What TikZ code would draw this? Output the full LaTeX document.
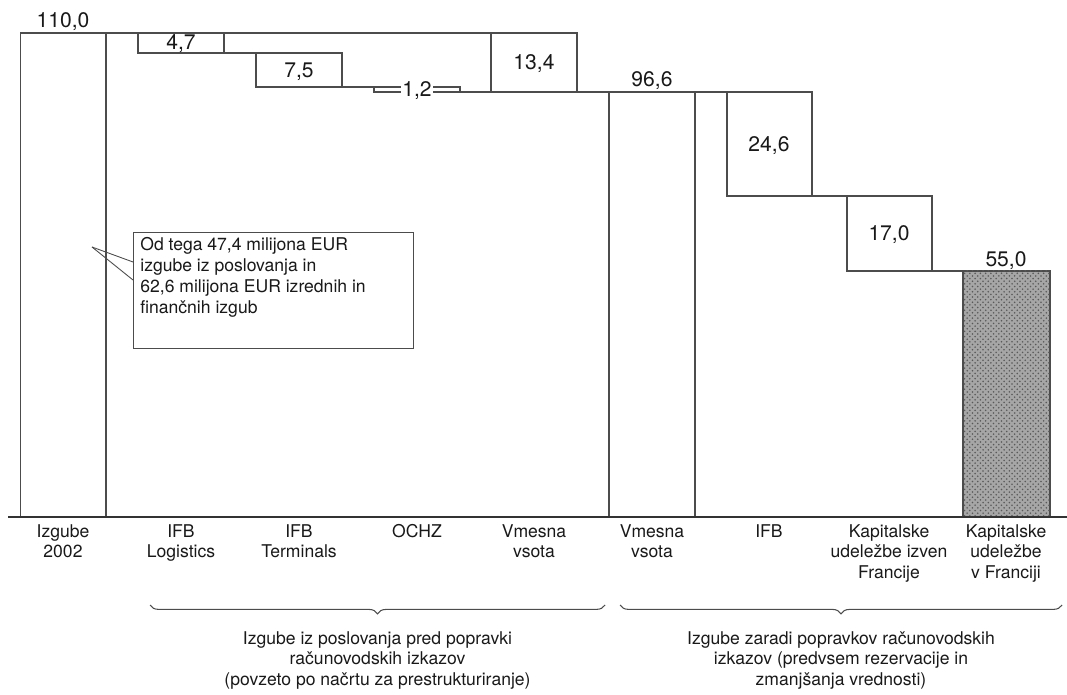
\documentclass[tikz,border=0pt]{standalone}
\usepackage{fontspec}
\setmainfont{TeX Gyre Heros}
\usetikzlibrary{positioning, decorations.pathreplacing, patterns}

\begin{document}
\begin{tikzpicture}[
    x=0.02cm, y=-0.02cm,
    every node/.style={
        font=\fontsize{10}{11.8}\selectfont, text=black!90, inner sep=0pt
    },
    outline/.style={draw=black!70, line width=0.6pt},
    axisline/.style={draw=black!80, line width=1.6pt},
    shaded/.style={outline, fill=black!35,
        postaction={pattern=crosshatch dots, pattern color=black!65}},
    value/.style={anchor=base, font=\fontsize{12}{14}\selectfont},
    catlabel/.style={anchor=north, align=center},
    bracelabel/.style={anchor=north, align=center},
    notebox/.style={outline, fill=white, anchor=north west,
        minimum width=5.6cm, minimum height=2.32cm},
    pointer/.style={draw=black!70, line width=0.5pt},
    curly/.style={decorate, decoration={brace, mirror, amplitude=5pt},
        draw=black!70, line width=0.6pt},
]
\useasboundingbox (0,0) rectangle (1067,695);

% Stage 1: losses before the accounting corrections
\draw[outline] (20.5,33) rectangle (106,517);
\draw[outline] (106,33) -- (491,33);
\draw[outline] (138,33) rectangle (224,53);
\draw[outline] (224,53) -- (256,53);
\draw[outline] (256,53) rectangle (342,87);
\draw[outline] (342,87) -- (374,87);
\draw[outline] (374,87) rectangle (460,92);
\draw[outline] (460,92) -- (491,92);
\draw[outline] (491,33) rectangle (577,92);
\draw[outline] (577,92) -- (609,92);

% Stage 2: accounting corrections
\draw[outline] (609,92) rectangle (695,517);
\draw[outline] (695,92) -- (727,92);
\draw[outline] (727,92) rectangle (812,196);
\draw[outline] (812,196) -- (847,196);
\draw[outline] (847,196) rectangle (932,271);
\draw[outline] (932,271) -- (963,271);
\draw[shaded] (963,271) rectangle (1050,517);

% Axis
\draw[axisline] (8,517) -- (1067,517);

% Values
\node[value] (v110) at (63,28) {110,0};
\node[value] (v47) at (181,50) {4,7};
\node[value] (v75) at (299,78) {7,5};
\node[value, fill=white, inner xsep=1pt] (v12) at (417,97) {1,2};
\node[value] (v134) at (534,70) {13,4};
\node[value] (v966) at (652,87) {96,6};
\node[value] (v246) at (769,152) {24,6};
\node[value] (v170) at (889,241) {17,0};
\node[value] (v550) at (1006,267) {55,0};

% Note with pointer
\node[notebox] (note) at (133,232) {};
\node[anchor=north west, align=left] (notetext)
    at ([xshift=0.14cm, yshift=-0.11cm]note.north west)
    {Od tega 47,4 milijona EUR\\izgube iz poslovanja in\\
     62,6 milijona EUR izrednih in\\finančnih izgub};
\coordinate (tip) at (92,247);
\draw[pointer] (tip) -- ([yshift=-0.6cm]note.north west);
\draw[pointer] (tip) -- ([yshift=-0.96cm]note.north west);

% Categories
\node[catlabel] (c1) at (63,524) {Izgube\\2002};
\node[catlabel] (c2) at (181,524) {IFB\\Logistics};
\node[catlabel] (c3) at (299,524) {IFB\\Terminals};
\node[catlabel] (c4) at (417,524) {OCHZ};
\node[catlabel] (c5) at (534,524) {Vmesna\\vsota};
\node[catlabel] (c6) at (652,524) {Vmesna\\vsota};
\node[catlabel] (c7) at (769,524) {IFB};
\node[catlabel] (c8) at (889,524) {Kapitalske\\udeležbe izven\\Francije};
\node[catlabel] (c9) at (1006,524) {Kapitalske\\udeležbe\\v Franciji};

% Braces
\coordinate (b1l) at (150,605);
\coordinate (b1r) at (605,605);
\coordinate (b2l) at (620,605);
\coordinate (b2r) at (1062,605);
\draw[curly] (b1l) -- coordinate[pos=0.5] (b1tip) (b1r);
\draw[curly] (b2l) -- coordinate[pos=0.5] (b2tip) (b2r);
\node[bracelabel, below=0.52cm of b1tip] (sum1)
    {Izgube iz poslovanja pred popravki\\računovodskih izkazov\\
     (povzeto po načrtu za prestrukturiranje)};
\node[bracelabel, below=0.52cm of b2tip] (sum2)
    {Izgube zaradi popravkov računovodskih\\izkazov (predvsem rezervacije in\\
     zmanjšanja vrednosti)};
\end{tikzpicture}
\end{document}
